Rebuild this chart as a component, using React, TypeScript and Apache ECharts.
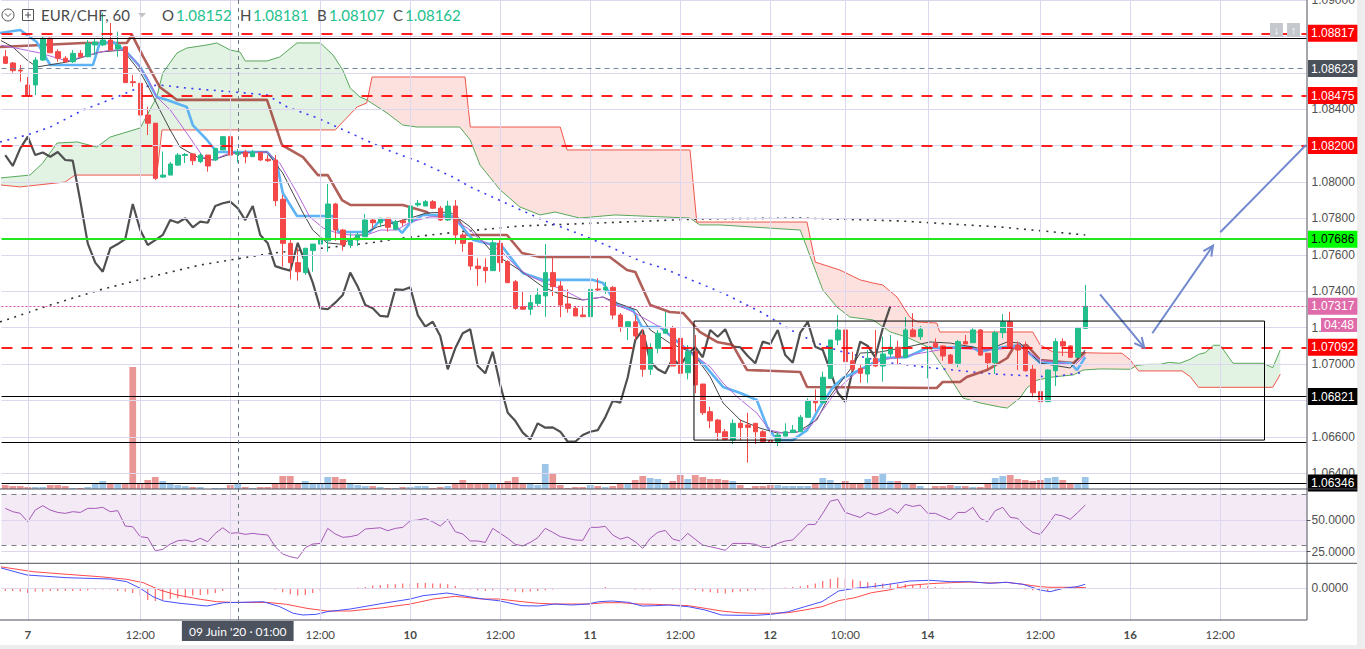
import React, { useEffect, useRef } from "react";
import * as echarts from "echarts";

// ---------------- DATA ----------------
// hourly bars, index 0 = first visible bar (Fri 5 Jun 18:00); 174 slots incl. future space
const slotCount = 174;
const categories: string[] = Array.from({ length: slotCount }, (_, i) => String(i));

const opens = [1.08688,1.08654,1.08615,1.08533,1.08533,1.0867,1.0879,1.08716,1.0868,1.08661,
1.08707,1.08688,1.08753,1.08753,1.0878,1.08731,1.08743,1.08551,1.08542,1.08368,
1.08323,1.08027,1.08038,1.08093,1.08146,1.08154,1.08112,1.08148,1.08121,1.08176,
1.08249,1.08152,1.08165,1.08139,1.08161,1.08125,1.08121,1.07905,1.07663,1.07557,
1.07502,1.07623,1.07659,1.07677,1.07879,1.07736,1.07654,1.07681,1.07699,1.07791,
1.07776,1.07801,1.0774,1.07787,1.07782,1.07874,1.07868,1.07892,1.07856,1.07791,
1.07868,1.07709,1.07666,1.07538,1.07531,1.07513,1.07663,1.07562,1.07452,1.07315,
1.07301,1.07333,1.07374,1.07502,1.07429,1.0733,1.07306,1.07269,1.0726,1.07412,
1.07407,1.07421,1.07269,1.07205,1.07232,1.07159,1.06971,1.07086,1.07169,1.07196,
1.07141,1.06952,1.07068,1.0689,1.06738,1.06692,1.06628,1.06582,1.06674,1.06665,
1.06674,1.06628,1.06579,1.06573,1.06604,1.06623,1.06628,1.06707,1.06798,1.06787,
1.06921,1.07132,1.07187,1.07018,1.06976,1.06945,1.07031,1.06989,1.07055,1.07092,
1.07037,1.07187,1.0715,1.07086,1.07114,1.07099,1.07049,1.07004,1.07123,1.07117,
1.07187,1.07059,1.07007,1.07172,1.07232,1.07104,1.07092,1.06971,1.06848,1.06793,
1.06963,1.07123,1.07099,1.07037,1.07196];
const highs = [1.08725,1.08659,1.08643,1.08577,1.08687,1.08798,1.08794,1.08729,1.08692,1.08725,
1.08725,1.0878,1.08786,1.08929,1.08874,1.08826,1.08747,1.08588,1.08544,1.08414,
1.08324,1.08167,1.0811,1.08159,1.08159,1.08159,1.08159,1.08148,1.08187,1.08253,
1.08276,1.08181,1.08176,1.08176,1.08167,1.08148,1.08148,1.07929,1.07681,1.07636,
1.07637,1.07659,1.07797,1.07989,1.07885,1.07742,1.07718,1.0772,1.07824,1.07801,
1.07802,1.07802,1.07791,1.07801,1.07901,1.07901,1.07901,1.07901,1.07868,1.07897,
1.07901,1.0772,1.0767,1.07581,1.07581,1.07681,1.07681,1.07571,1.07462,1.07397,
1.07379,1.07416,1.07659,1.07586,1.07456,1.0741,1.07319,1.07312,1.07434,1.07471,
1.07452,1.07429,1.0728,1.07236,1.07269,1.07192,1.07114,1.07187,1.07287,1.07209,
1.07143,1.07104,1.07159,1.0689,1.06765,1.06698,1.06643,1.06696,1.06696,1.06732,
1.06676,1.06637,1.0661,1.06623,1.06674,1.06665,1.0672,1.06812,1.06861,1.06958,
1.07132,1.07269,1.07196,1.07068,1.06995,1.07077,1.07187,1.0715,1.07159,1.07128,
1.07257,1.07279,1.07209,1.07095,1.07141,1.07104,1.07055,1.07132,1.07159,1.07196,
1.07191,1.0706,1.07183,1.07275,1.07287,1.07123,1.07123,1.06995,1.06875,1.06971,
1.07141,1.07141,1.07104,1.07205,1.07434];
const lows = [1.08648,1.08601,1.08551,1.08473,1.08478,1.08665,1.08709,1.08661,1.08654,1.08654,
1.08681,1.08687,1.08698,1.08747,1.08725,1.08688,1.08544,1.08524,1.08352,1.08258,
1.08011,1.08022,1.08038,1.08088,1.08104,1.08093,1.08104,1.08057,1.08115,1.08176,
1.08143,1.08107,1.08103,1.08137,1.08115,1.0811,1.07868,1.07535,1.07465,1.07458,
1.07489,1.07507,1.07637,1.07617,1.07677,1.07623,1.07636,1.07648,1.07698,1.07746,
1.07753,1.07727,1.07736,1.07758,1.0778,1.07864,1.07868,1.07852,1.07786,1.07786,
1.07659,1.07617,1.07516,1.07429,1.07447,1.07511,1.07507,1.07445,1.07297,1.07297,
1.07269,1.07319,1.0726,1.07374,1.07257,1.07282,1.07264,1.07258,1.07258,1.07397,
1.07385,1.07246,1.07177,1.07132,1.07132,1.0693,1.0694,1.07059,1.07169,1.06989,
1.06894,1.06916,1.06839,1.0672,1.06647,1.06579,1.06579,1.0656,1.06579,1.06458,
1.0656,1.06568,1.06555,1.06549,1.06601,1.06621,1.06626,1.06707,1.06738,1.06786,
1.06921,1.07104,1.06995,1.06962,1.06897,1.06897,1.06984,1.06903,1.07037,1.07,
1.07037,1.07148,1.07132,1.06921,1.07088,1.07018,1.07,1.06982,1.0711,1.07115,
1.07044,1.06971,1.06945,1.07141,1.07088,1.06967,1.06958,1.06817,1.0672,1.06793,
1.06879,1.07044,1.07033,1.07033,1.07194];
const closes = [1.08652,1.08612,1.0861,1.08478,1.0867,1.0879,1.0871,1.0868,1.08661,1.08707,
1.08688,1.08762,1.08769,1.0878,1.08725,1.08753,1.08546,1.08546,1.08368,1.08323,
1.0802,1.08038,1.08099,1.08148,1.08151,1.08117,1.08148,1.08088,1.08185,1.08249,
1.08148,1.08162,1.08139,1.08165,1.08121,1.08117,1.07897,1.07663,1.07557,1.07507,
1.07636,1.07659,1.07687,1.07879,1.07736,1.07654,1.07681,1.07709,1.07791,1.07776,
1.07801,1.07751,1.07782,1.07776,1.07868,1.07883,1.07892,1.07856,1.07791,1.07868,
1.07709,1.07663,1.07538,1.07524,1.07513,1.07666,1.07557,1.07447,1.07306,1.07301,
1.07337,1.07379,1.07502,1.07425,1.07324,1.07306,1.07264,1.0726,1.0741,1.07407,
1.07421,1.07269,1.07205,1.07232,1.07154,1.06971,1.07086,1.07169,1.07191,1.06989,
1.06949,1.07068,1.06885,1.06732,1.06688,1.06623,1.06586,1.06674,1.0665,1.06652,
1.06628,1.06573,1.06573,1.0661,1.06628,1.06637,1.06707,1.06798,1.06787,1.06927,
1.07132,1.07187,1.07013,1.06971,1.06949,1.07031,1.06989,1.07055,1.07092,1.07037,
1.07187,1.0715,1.07191,1.07095,1.07092,1.07044,1.07004,1.07123,1.0711,1.07187,
1.07049,1.07007,1.07172,1.07232,1.07095,1.07077,1.06963,1.06842,1.06793,1.06967,
1.07123,1.07099,1.07037,1.07196,1.07317];
const volumes = [4,3,3,2,2,2,4,4,3,1,
1,2,5,8,6,6,6,122,6,9,
12,8,5,4,3,2,2,0,1,1,
4,5,2,1,2,2,6,13,13,6,
8,6,6,12,12,10,5,4,3,3,
2,1,1,2,2,3,3,1,2,3,
6,9,6,6,6,6,6,8,12,6,
5,4,25,15,4,1,2,2,4,3,
2,3,5,5,9,13,11,10,6,8,
14,10,14,12,10,10,9,8,4,1,
3,3,4,4,3,3,3,3,6,11,
9,6,8,6,6,10,13,15,8,8,
6,6,3,0,3,3,4,3,3,2,
2,5,11,13,14,10,9,8,9,11,
12,9,6,6,12];
const rsiValues = [59.0,56.4,55.1,48.5,57.7,61.1,57.7,55.8,55.1,56.4,
55.8,59.0,59.0,59.8,56.4,57.2,45.1,44.6,36.8,36.0,
25.8,26.8,31.0,33.6,34.2,32.8,35.5,32.8,39.4,43.8,
39.4,39.9,38.6,39.4,38.6,38.1,28.9,23.2,21.1,19.8,
28.1,31.0,31.5,43.3,38.9,36.3,36.8,38.1,42.8,43.3,
43.8,41.5,43.3,44.1,49.3,49.8,51.1,48.5,45.1,50.4,
40.7,38.9,33.4,33.4,32.3,43.3,39.4,35.5,30.8,29.5,
32.3,36.0,43.3,40.2,36.8,35.5,34.2,33.9,44.1,44.1,
44.9,38.1,34.9,36.5,32.8,27.6,35.5,40.2,41.7,34.9,
33.4,39.4,34.7,30.2,28.9,27.6,26.1,31.5,31.5,31.5,
30.8,28.4,28.4,31.5,33.4,34.2,40.2,46.4,46.4,55.1,
64.7,66.0,55.8,53.8,51.9,55.8,53.8,55.8,59.0,55.1,
62.1,60.5,61.6,55.1,55.1,52.5,49.8,55.8,55.8,59.8,
51.1,48.5,57.2,59.8,52.0,51.1,44.6,40.2,38.6,45.9,
54.3,53.0,50.4,55.8,61.6];
// MACD values in units of 1e-5
const macdHist = [-2.7,-2.7,-3.3,-4.7,-3.3,-3.3,-2.7,-2.7,-2.7,-2.7,
-2.7,-2,-1.3,-1.3,-1.3,-2.7,-3.3,-4.7,-7.3,-11.7,
-12.7,-11.7,-10.7,-10,-9.3,-7.3,-6.7,-6,-4.7,-2.7,
-0.7,0,0,0,0,0,-1.3,-4,-6,-7.3,
-6.7,-4.7,-2.7,-0.7,0,0,0,0.7,1.3,2.7,
3.3,4,4,4.7,4.7,5.3,5.3,4.7,4.7,4,
2.3,-1.3,-1.3,-2,-2.7,-2,-2,-2,-3.3,-4,
-3.3,-2.7,-2,-1.3,-0.7,-0.7,-0.7,0,0.7,0,
1.3,0,0,0,-1.3,-1.3,-1.3,-0.7,-0.7,-1.3,
-2,-1.3,-2,-3.3,-4,-4.7,-5.3,-4,-3.3,-2.7,
-2,-1.3,-1.3,0,0.7,1.3,2,3.3,4.7,7.3,
9.3,10.7,10,8.7,7.3,6,5.3,4.7,4.7,4,
4,3.3,3.3,2,1.3,0.7,0.7,0,0,0,
0,0.3,0,0,0,-0.7,-1.3,-2,-3.3,-2.7,
-1.3,-0.7,0.7,1.3,1.3];
const macdLine: [number, number][] = [[-0.7,20.6],[2.9,13.3],[8.2,10.6],[14,9.3],[16.2,6.6],[18,0],[19.7,-8.4],[21.1,-12.7],[23.3,-15],[26.9,-17.7],[29.1,-14.4],[31.3,-14.1],[34.4,-13.4],[36.6,-18.4],[38.4,-25],[39.7,-26.7],[41.5,-26],[42.9,-23.4],[46,-20.7],[50.4,-15],[54,-10.7],[55.7,-7.4],[58.9,-4.7],[60,-6],[62.6,-9.4],[64,-11],[65.8,-12.4],[68.9,-17.4],[71.1,-17.7],[73.3,-15.7],[75.5,-16.7],[77.7,-15.7],[79.1,-13.4],[80.9,-12.7],[83.1,-14],[84.9,-17.7],[86.6,-17.4],[88.4,-16.7],[91.1,-18.4],[93.3,-21.7],[95.5,-26.7],[97.7,-27],[100,-27],[102.2,-26],[104.4,-23.4],[106.6,-18.4],[108.9,-13.4],[111.1,-2.7],[113.3,0],[115.5,1.6],[117.8,4],[120.6,7.3],[123.3,8],[126,6.6],[128.6,6.6],[131.3,5],[133.5,6],[135.7,4],[138,-1.7],[139.3,-3.4],[141.1,0],[142.9,1.6],[144,4]];
const signalLine: [number, number][] = [[-0.7,21.6],[3.7,16.6],[8.2,14],[12.6,11.6],[16.2,9],[18.4,5.6],[20.6,-1.7],[22.9,-6.7],[26,-11],[28.2,-13.4],[30.4,-14.1],[34.9,-14.1],[37.5,-16],[40.2,-20],[42.9,-22.7],[46,-22.7],[50.4,-19.4],[54,-15.7],[57.1,-10.7],[60,-8],[63.5,-10.7],[65.8,-10.7],[68.9,-13.4],[71.1,-15],[73.3,-15.7],[77.7,-15.7],[80,-14.4],[82.2,-14.4],[84.4,-15.7],[86.6,-16],[88.9,-16.7],[91.1,-17.4],[93.3,-20],[95.5,-22.7],[97.7,-24.4],[100,-25],[102.2,-25],[104.4,-24.4],[106.6,-21.7],[108.9,-18.4],[111.1,-12.4],[113.3,-9.4],[115.5,-4.4],[117.8,-1.7],[120.6,3],[123.3,4.6],[126,5.6],[128.6,6.3],[131.3,5.3],[133.5,6],[135.7,4],[138,1.6],[139.3,1],[141.1,1],[142.9,1],[144,0.6]];

// indicator lines: [bar index, price]
const tenkan: [number, number][] = [[-0.7,1.08819],[2.0,1.08835],[4.2,1.08769],[6.0,1.08643],[11.7,1.08643],[12.6,1.08764],[14.4,1.08769],[16.2,1.08714],[18.0,1.08632],[20.2,1.08467],[21.6,1.08451],[24.2,1.08412],[25.0,1.08313],[26.9,1.08231],[28.2,1.08165],[34.9,1.08165],[36.2,1.08104],[37.0,1.0794],[38.9,1.07813],[43.7,1.07813],[44.4,1.07725],[48.6,1.07725],[50.0,1.07791],[51.3,1.07791],[52.9,1.0772],[54.0,1.07775],[55.7,1.07819],[59.3,1.07819],[60.6,1.07769],[62.4,1.07681],[64.6,1.07659],[66.0,1.07659],[69.0,1.075],[71.7,1.07462],[78.4,1.07462],[79.7,1.07445],[81.6,1.07324],[83.7,1.07297],[84.9,1.07203],[87.3,1.07203],[91.3,1.07066],[93.0,1.07005],[95.7,1.06874],[98.0,1.06841],[100.2,1.06802],[101.6,1.06654],[102.9,1.06582],[105.0,1.06582],[106.9,1.06637],[108.6,1.06764],[110.4,1.06874],[111.7,1.06923],[112.6,1.0694],[117.0,1.07033],[120.2,1.07038],[122.9,1.07088],[129.0,1.07093],[129.9,1.07066],[132.2,1.07088],[135.3,1.07104],[138.0,1.07005],[142.0,1.07005],[142.9,1.06967],[144.0,1.07038]];
const kijun: [number, number][] = [[-0.7,1.08742],[10.4,1.08764],[16.2,1.08764],[16.9,1.08808],[18.4,1.08687],[20.6,1.08522],[22.9,1.08451],[34.9,1.08451],[36.9,1.08203],[39.7,1.08137],[41.7,1.08038],[43.0,1.08038],[44.9,1.07901],[46.0,1.07874],[53.0,1.07874],[56.2,1.07835],[56.6,1.07819],[60.2,1.07808],[61.6,1.07709],[66.9,1.07709],[68.9,1.0761],[71.3,1.07588],[80.6,1.07588],[82.9,1.07516],[84.0,1.07506],[86.0,1.07324],[88.6,1.07286],[90.4,1.0728],[92.6,1.07176],[94.9,1.07121],[97.0,1.07104],[98.9,1.06967],[106.0,1.06956],[106.9,1.06874],[124.2,1.06868],[125.0,1.06901],[127.3,1.06901],[128.2,1.06929],[130.9,1.06967],[133.6,1.07033],[134.4,1.07088],[136.2,1.07104],[138.0,1.07022],[142.4,1.07005],[144.0,1.07066]];
const emaPurple: [number, number][] = [[-0.7,1.08753],[2.0,1.08731],[4.6,1.08709],[8.2,1.08665],[12.2,1.08709],[14.0,1.08725],[15.7,1.08725],[17.0,1.08681],[18.9,1.08577],[20.2,1.08467],[22.0,1.08396],[24.2,1.08269],[26.4,1.08137],[27.7,1.08121],[29.6,1.08154],[34.9,1.08165],[36.6,1.08104],[38.9,1.0794],[40.6,1.07808],[42.4,1.07747],[44.2,1.0772],[46.0,1.07709],[48.2,1.07709],[50.0,1.07736],[52.2,1.07736],[54.0,1.0778],[56.6,1.07808],[59.3,1.07808],[62.0,1.07736],[63.3,1.07681],[66.0,1.07626],[68.2,1.07533],[69.6,1.07489],[71.7,1.07451],[74.4,1.07407],[77.0,1.07352],[79.7,1.07368],[81.0,1.07335],[83.7,1.07286],[85.6,1.07242],[87.3,1.07203],[91.3,1.07066],[94.0,1.06984],[95.7,1.06896],[97.6,1.06819],[100.2,1.06731],[101.9,1.06637],[103.7,1.06621],[105.6,1.06626],[107.3,1.06654],[109.0,1.06747],[110.9,1.06857],[112.6,1.06923],[114.0,1.06967],[117.0,1.07022],[120.6,1.07049],[126.0,1.07088],[131.3,1.07077],[135.3,1.07093],[138.0,1.07022],[140.6,1.07005],[142.6,1.06995],[144.0,1.07049]];
const smaThin: [number, number][] = [[-0.7,1.0878],[1.0,1.08742],[2.9,1.0867],[4.2,1.08632],[8.2,1.08659],[12.6,1.08714],[15.7,1.08725],[18.0,1.08604],[19.3,1.08506],[20.6,1.08396],[22.0,1.08286],[23.3,1.08192],[25.6,1.08137],[27.7,1.08121],[30.4,1.08159],[34.9,1.08165],[37.0,1.08049],[39.7,1.0783],[41.0,1.07736],[42.9,1.07665],[44.6,1.07659],[46.9,1.07698],[49.6,1.07753],[51.7,1.07775],[54.0,1.07802],[56.2,1.0783],[59.3,1.07835],[62.0,1.07753],[65.0,1.0761],[68.6,1.07516],[71.7,1.07423],[74.9,1.07368],[77.0,1.07352],[79.7,1.07368],[81.6,1.07335],[84.2,1.07297],[86.0,1.07187],[88.6,1.07115],[91.7,1.0706],[94.0,1.06929],[95.7,1.06786],[98.0,1.06692],[100.6,1.06648],[102.9,1.06621],[105.6,1.06626],[108.2,1.06692],[109.6,1.06802],[110.9,1.06874],[112.6,1.06967],[114.0,1.0706],[116.6,1.07066],[120.2,1.07093],[123.3,1.07121],[126.0,1.07115],[129.0,1.07093],[130.9,1.07077],[133.6,1.07121],[135.3,1.07115],[138.0,1.07005],[142.0,1.06978],[144.0,1.07077]];
const maBlueDotted: [number, number][] = [[-0.7,1.0822],[2.9,1.08258],[6.0,1.08302],[10.4,1.08396],[14.9,1.08467],[18.0,1.08522],[20.6,1.08533],[24.2,1.08516],[30.4,1.08495],[34.9,1.08478],[37.6,1.08412],[41.6,1.08352],[46.0,1.08269],[50.9,1.08176],[55.3,1.0811],[59.7,1.08027],[62.0,1.07973],[71.7,1.07791],[76.9,1.07709],[81.0,1.07637],[85.0,1.0756],[87.3,1.07533],[95.7,1.0739],[101.0,1.0728],[105.0,1.07181],[108.2,1.07115],[111.3,1.07071],[117.0,1.07011],[123.7,1.06978],[131.7,1.06945],[139.7,1.06929],[144.0,1.06956]];
const maBlackDotted: [number, number][] = [[-0.7,1.07231],[6.0,1.07324],[12.6,1.07407],[19.3,1.07478],[26.0,1.07544],[35.7,1.0761],[42.4,1.07637],[48.6,1.07665],[53.0,1.07692],[60.2,1.07725],[68.6,1.07758],[79.3,1.07775],[92.6,1.07797],[106.0,1.07802],[119.3,1.07786],[132.6,1.07753],[144.0,1.07709]];
const senkouA: [number, number][] = [[-0.7,1.08022],[3.3,1.08038],[5.0,1.08104],[6.9,1.08214],[9.6,1.0822],[12.2,1.08192],[14.0,1.08247],[18.0,1.08297],[20.2,1.08467],[21.0,1.08599],[22.9,1.08709],[24.2,1.08736],[26.9,1.08753],[28.2,1.08764],[30.0,1.08725],[31.3,1.08714],[32.0,1.08665],[34.9,1.08665],[36.6,1.08687],[38.9,1.08764],[42.0,1.08764],[43.7,1.08698],[45.0,1.08615],[46.0,1.08516],[47.3,1.08467],[48.2,1.08451],[50.9,1.08379],[53.0,1.08313],[54.9,1.08302],[60.6,1.08302],[62.0,1.08231],[63.3,1.08093],[66.0,1.07956],[68.6,1.07863],[71.3,1.07819],[73.3,1.07835],[76.6,1.07802],[81.3,1.07819],[91.3,1.07802],[92.6,1.07764],[95.3,1.07764],[106.0,1.07736],[109.0,1.07407],[110.9,1.07313],[112.6,1.07258],[115.7,1.07242],[118.0,1.07176],[120.2,1.07148],[123.3,1.07088],[125.0,1.06984],[126.4,1.06896],[127.7,1.06813],[130.0,1.06786],[132.6,1.06764],[133.6,1.06758],[135.3,1.06813],[136.2,1.06868],[137.6,1.06912],[139.7,1.06929],[142.4,1.0694],[143.7,1.06967],[146.0,1.06973],[150.0,1.06971],[150.9,1.06993],[152.2,1.06998],[154.0,1.06998],[155.1,1.07009],[156.6,1.07004],[158.0,1.07026],[159.1,1.07053],[160.0,1.07062],[161.1,1.07103],[162.0,1.07103],[163.7,1.07004],[167.7,1.07004],[169.0,1.0698],[170.0,1.07077]];
const senkouB: [number, number][] = [[-0.7,1.07984],[2.0,1.07973],[8.0,1.08],[9.3,1.08038],[20.2,1.08038],[20.9,1.08286],[44.0,1.08286],[45.0,1.0833],[46.9,1.08412],[48.2,1.08434],[48.9,1.08577],[61.3,1.08577],[62.0,1.08302],[74.0,1.08302],[74.9,1.08176],[91.3,1.08176],[92.2,1.0778],[106.9,1.0778],[108.0,1.0756],[111.3,1.07516],[114.0,1.07462],[115.7,1.07445],[117.0,1.07434],[118.9,1.07368],[120.6,1.07258],[121.6,1.07231],[124.2,1.07225],[124.6,1.07176],[137.0,1.07176],[138.0,1.07104],[139.7,1.07066],[146.0,1.0706],[148.9,1.07059],[150.0,1.07022],[151.1,1.06962],[156.9,1.06962],[158.0,1.0693],[159.1,1.06872],[169.0,1.06872],[170.0,1.06943]];
const cloudTwists = [48.3, 150.6];
const cloudLobeBullish = [true, false, true];
const chikouShift = 26;

// drawings
const redLevels = [1.08817, 1.08475, 1.082, 1.07092];
const blackLevels = [1.08791, 1.0657];
const blackTagged = [1.06821, 1.06346];
const grayLevel = 1.08623;
const greenLevel = 1.07686;
const lastPrice = 1.07317;
const countdown = "04:48";
const boxCorners = [91.83, 1.07236, 167.9, 1.06582];
const arrows = [
  [145.97, 1.07383, 151.87, 1.0709, 1],
  [152.94, 1.07169, 161.03, 1.0765, 1],
  [162.0, 1.07724, 173.43, 1.08203, 0],
];

// axes
const gridPrices = [1.09,1.088,1.086,1.084,1.082,1.08,1.078,1.076,1.074,1.072,1.07,1.068,1.066,1.064];
const priceTicks = [1.09,1.084,1.08,1.078,1.076,1.074,1.072,1.07,1.066,1.064];
const rsiTicks = [50, 25];
const macdTicks = [0];
const dayLines = [3,18,30,42,54,66,78,90,102,112,123,138,150,162];
const xLabelIdx = [3,18,42,54,66,78,90,102,112,123,138,150,162];
const xLabelText = ["7","12:00","12:00","10","12:00","11","12:00","12","10:00","14","12:00","16","12:00"];
const crosshairIdx = 31;
const crosshairText = "09 Juin '20 \u00B7 01:00";
const symbolText = "EUR/CHF, 60";

// ---------------- STYLE ----------------
const UP = "#22BF8C";
const DOWN = "#F44848";
const GRID = "#DCD7EE";
const PF = "'Liberation Sans', Arial, sans-serif";
const HF = "Lato, 'Noto Sans', sans-serif";
const PINK = "#E06BAA";
const ARROW = "#7189CE";
const AXISC = "#50535E";

function interp(pts: [number, number][], x: number) {
  if (x <= pts[0][0]) return pts[0][1];
  for (let i = 1; i < pts.length; i++) {
    if (x <= pts[i][0]) {
      const [x0, y0] = pts[i - 1];
      const [x1, y1] = pts[i];
      return y0 + ((y1 - y0) * (x - x0)) / (x1 - x0);
    }
  }
  return pts[pts.length - 1][1];
}

function tag(v: number, bg: string, fg: string) {
  return {
    show: true, position: "end", distance: 1.5, formatter: v.toFixed(5),
    backgroundColor: bg, color: fg, padding: [2, 3, 2, 3], fontSize: 12, lineHeight: 13, fontFamily: PF,
  };
}

function lineS(data: any, color: string, width: number, z: number, type: any = "solid", xi = 1) {
  return { type: "line", xAxisIndex: xi, yAxisIndex: 0, data, symbol: "none", silent: true, z,
    lineStyle: { color, width, type }, animation: false };
}

function tickAxis(gridIndex: number, min: number, max: number, ticks: number[]) {
  return {
    type: "value", gridIndex, min, max, position: "right", show: true,
    axisLine: { show: false }, splitLine: { show: false }, axisLabel: { show: false },
    axisTick: { show: true, inside: false, length: 4, customValues: ticks, lineStyle: { color: AXISC, width: 1 } },
  };
}

function buildOption(): any {
  const L = 1.5, W = 1305;
  const idxAxis = { type: "value", min: -0.5, max: 173.5, show: false };
  const catAxis = { type: "category", data: categories, boundaryGap: true, show: false };
  const candleData = opens.map((o, i) => [o, closes[i], lows[i], highs[i]]);
  const volData = volumes.map((v, i) => ({ value: v, itemStyle: { color: closes[i] >= opens[i] ? "#9DC5E8" : "#E89696" } }));

  const hdr = (text: string, x: number, color: string, size = 15) => ({
    type: "text", x, y: 15, z: 100,
    style: { text, fill: color, fontSize: size, fontFamily: HF, verticalAlign: "middle", textVerticalAlign: "middle" },
  });

  const series: any[] = [
    // vertical grid lines + x labels (overlay grid)
    { type: "line", xAxisIndex: 6, yAxisIndex: 4, data: [], z: 0, silent: true,
      markLine: { silent: true, symbol: ["none", "none"], animation: false, precision: 3,
        lineStyle: { color: GRID, width: 1, type: "solid" },
        data: dayLines.map((k) => {
          const li = xLabelIdx.indexOf(k);
          return { xAxis: k, label: li < 0 ? { show: false } : {
            show: true, position: "start", distance: 8, formatter: xLabelText[li], color: "#4A4A4A",
            fontSize: 11.5, fontFamily: HF, fontWeight: xLabelText[li].includes(":") ? "normal" : "bold" } };
        }) } },
    // horizontal price grid + labels
    { type: "line", xAxisIndex: 1, yAxisIndex: 0, data: [], z: 0, silent: true,
      markLine: { silent: true, symbol: ["none", "none"], animation: false, precision: 6,
        lineStyle: { color: GRID, width: 1, type: "solid" },
        data: gridPrices.map((p) => ({ yAxis: p, label: priceTicks.some((t) => Math.abs(t - p) < 1e-9)
          ? { show: true, position: "end", distance: 5, formatter: p.toFixed(5), color: "#4F4F4F", fontSize: 12, fontFamily: PF }
          : { show: false } })) } },
    // cloud fill
    { type: "custom", xAxisIndex: 1, yAxisIndex: 0, z: 1, silent: true, clip: true, data: [[0, 1.08]],
      renderItem: (_p: any, api: any) => {
        const xs = [senkouA[0][0], ...cloudTwists, senkouA[senkouA.length - 1][0]];
        const kids: any[] = [];
        for (let k = 0; k < xs.length - 1; k++) {
          const a0 = xs[k], a1 = xs[k + 1];
          const top = [[a0, interp(senkouA, a0)], ...senkouA.filter((p) => p[0] > a0 && p[0] < a1), [a1, interp(senkouA, a1)]];
          const bot = [[a0, interp(senkouB, a0)], ...senkouB.filter((p) => p[0] > a0 && p[0] < a1), [a1, interp(senkouB, a1)]].reverse();
          kids.push({ type: "polygon", shape: { points: top.concat(bot).map((p) => api.coord(p)) },
            style: { fill: cloudLobeBullish[k] ? "rgba(76,175,80,0.16)" : "rgba(244,67,54,0.16)" } });
        }
        return { type: "group", children: kids };
      } },
    lineS(senkouA, "#58A85B", 1, 2),
    lineS(senkouB, "#F0564C", 1, 2),
    // volume
    { type: "bar", xAxisIndex: 2, yAxisIndex: 1, data: volData, barCategoryGap: "10%", z: 1.5, silent: true, animation: false },
    // moving averages & ichimoku lines
    lineS(maBlackDotted, "#333333", 1.6, 3, [2, 5.5]),
    lineS(maBlueDotted, "#3B3BF2", 1.6, 3, [2, 5.5]),
    { type: "line", xAxisIndex: 0, yAxisIndex: 0, data: closes.slice(chikouShift), symbol: "none", silent: true, z: 3,
      lineStyle: { color: "#505050", width: 2.2 }, animation: false },
    lineS(kijun, "rgba(160,60,52,0.82)", 2.6, 3),
    lineS(tenkan, "#5DB3F3", 2.6, 3),
    lineS(smaThin, "#474747", 1, 3),
    lineS(emaPurple, "#B765DD", 1, 3),
    // candles
    { type: "candlestick", xAxisIndex: 0, yAxisIndex: 0, data: candleData, barWidth: 5, z: 4, silent: true,
      itemStyle: { color: UP, color0: DOWN, borderColor: UP, borderColor0: DOWN, borderWidth: 1 } },
    // rectangle drawing
    lineS([[boxCorners[0], boxCorners[1]], [boxCorners[2], boxCorners[1]], [boxCorners[2], boxCorners[3]],
      [boxCorners[0], boxCorners[3]], [boxCorners[0], boxCorners[1]]], "#000000", 1, 6),
    // arrows
    { type: "custom", xAxisIndex: 1, yAxisIndex: 0, z: 6, silent: true, data: arrows, encode: { x: [0, 2], y: [1, 3] },
      renderItem: (_p: any, api: any) => {
        const p1 = api.coord([api.value(0), api.value(1)]);
        const p2 = api.coord([api.value(2), api.value(3)]);
        const st = { stroke: ARROW, lineWidth: 2, fill: "none" };
        const kids: any[] = [{ type: "line", shape: { x1: p1[0], y1: p1[1], x2: p2[0], y2: p2[1] }, style: st }];
        if (api.value(4)) {
          const a = Math.atan2(p2[1] - p1[1], p2[0] - p1[0]);
          const len = 11, sp = 0.45;
          kids.push({ type: "polyline", shape: { points: [
            [p2[0] - len * Math.cos(a - sp), p2[1] - len * Math.sin(a - sp)], [p2[0], p2[1]],
            [p2[0] - len * Math.cos(a + sp), p2[1] - len * Math.sin(a + sp)]] }, style: st });
        }
        return { type: "group", children: kids };
      } },
    // horizontal level drawings with price tags
    { type: "line", xAxisIndex: 1, yAxisIndex: 0, data: [], z: 6, silent: true,
      markLine: { silent: true, symbol: ["none", "none"], animation: false, precision: 6,
        data: [
          ...blackLevels.map((v) => ({ yAxis: v, lineStyle: { color: "#000", width: 1, type: "solid" }, label: { show: false } })),
          ...blackTagged.map((v) => ({ yAxis: v, lineStyle: { color: "#000", width: 1, type: "solid" }, label: tag(v, "#000000", "#ffffff") })),
          { yAxis: grayLevel, lineStyle: { color: "#7487A0", width: 1, type: [5, 4] }, label: tag(grayLevel, "#4A515B", "#ffffff") },
          { yAxis: greenLevel, lineStyle: { color: "#22E622", width: 2, type: "solid" }, label: tag(greenLevel, "#00FF00", "#000000") },
          { yAxis: lastPrice, lineStyle: { color: "#E0479E", width: 1, type: [2, 2] }, label: tag(lastPrice, PINK, "#ffffff") },
          ...redLevels.map((v) => ({ yAxis: v, lineStyle: { color: "rgba(255,0,0,0.88)", width: 2, type: [11, 9] }, label: tag(v, "#FF0000", "#ffffff") })),
        ] } },
    // crosshair
    { type: "line", xAxisIndex: 6, yAxisIndex: 4, data: [], z: 7, silent: true,
      markLine: { silent: true, symbol: ["none", "none"], animation: false, label: { show: false },
        lineStyle: { color: "#6F7C8C", width: 1, type: [4, 4] }, data: [{ xAxis: crosshairIdx }] } },
    // RSI
    { type: "line", xAxisIndex: 3, yAxisIndex: 2, data: rsiValues, symbol: "none", silent: true, z: 3,
      lineStyle: { color: "#A558B6", width: 1 }, animation: false,
      markArea: { silent: true, itemStyle: { color: "rgba(150,60,160,0.11)" }, data: [[{ yAxis: 30 }, { yAxis: 70 }]] },
      markLine: { silent: true, symbol: ["none", "none"], animation: false,
        data: [
          { yAxis: 70, lineStyle: { color: "#7E7E88", width: 1, type: [5, 5] }, label: { show: false } },
          { yAxis: 30, lineStyle: { color: "#7E7E88", width: 1, type: [5, 5] }, label: { show: false } },
          ...rsiTicks.map((t) => ({ yAxis: t, lineStyle: { color: GRID, width: 1, type: "solid" },
            label: { show: true, position: "end", distance: 5, formatter: t.toFixed(4), color: "#4F4F4F", fontSize: 12, fontFamily: PF } })),
        ] } },
    // MACD
    { type: "bar", xAxisIndex: 4, yAxisIndex: 3, data: macdHist, barWidth: 1, silent: true, z: 3,
      itemStyle: { color: "#FF4D4D" }, animation: false,
      markLine: { silent: true, symbol: ["none", "none"], animation: false,
        data: macdTicks.map((t) => ({ yAxis: t, lineStyle: { color: GRID, width: 1, type: "solid" },
          label: { show: true, position: "end", distance: 5, formatter: t.toFixed(4), color: "#4F4F4F", fontSize: 12, fontFamily: PF } })) } },
    { type: "line", xAxisIndex: 5, yAxisIndex: 3, data: signalLine, symbol: "none", silent: true, z: 3,
      lineStyle: { color: "#FF4A4A", width: 1 }, animation: false },
    { type: "line", xAxisIndex: 5, yAxisIndex: 3, data: macdLine, symbol: "none", silent: true, z: 3,
      lineStyle: { color: "#4650FA", width: 1 }, animation: false },
  ];

  const dark = "#4B4F58";
  const graphic: any[] = [
    { type: "rect", shape: { x: 1357, y: 0, width: 8, height: 649 }, style: { fill: "#EDEDED" }, z: 1 },
    { type: "rect", shape: { x: 0, y: 645, width: 1365, height: 4 }, style: { fill: "#EDEDED" }, z: 1 },
    { type: "line", shape: { x1: 1307, y1: 0, x2: 1307, y2: 620 }, style: { stroke: dark, lineWidth: 1 }, z: 10 },
    { type: "line", shape: { x1: 0, y1: 489, x2: 1357, y2: 489 }, style: { stroke: dark, lineWidth: 1 }, z: 10 },
    { type: "line", shape: { x1: 0, y1: 563.3, x2: 1357, y2: 563.3 }, style: { stroke: dark, lineWidth: 1 }, z: 10 },
    { type: "line", shape: { x1: 0, y1: 620, x2: 1307, y2: 620 }, style: { stroke: dark, lineWidth: 1 }, z: 10 },
    // header
    { type: "circle", shape: { cx: 8, cy: 15, r: 6 }, style: { fill: "none", stroke: "#555", lineWidth: 1 }, z: 100 },
    { type: "polyline", shape: { points: [[5, 13.5], [8, 16.5], [11, 13.5]] }, style: { fill: "none", stroke: "#555", lineWidth: 1 }, z: 100 },
    { type: "rect", shape: { x: 22.5, y: 9.5, width: 11, height: 11 }, style: { fill: "none", stroke: "#555", lineWidth: 1 }, z: 100 },
    { type: "line", shape: { x1: 25, y1: 15, x2: 31, y2: 15 }, style: { stroke: "#555", lineWidth: 1 }, z: 100 },
    { type: "line", shape: { x1: 28, y1: 12, x2: 28, y2: 18 }, style: { stroke: "#555", lineWidth: 1 }, z: 100 },
    hdr(symbolText, 41, "#4A4A4A"),
    { type: "polygon", shape: { points: [[138, 13], [146, 13], [142, 17.5]] }, style: { fill: "#C4C4C4" }, z: 100 },
    hdr("O", 162, "#4A4A4A"), hdr(opens[crosshairIdx].toFixed(5), 176, UP),
    hdr("H", 240, "#4A4A4A"), hdr(highs[crosshairIdx].toFixed(5), 253, UP),
    hdr("B", 317, "#4A4A4A"), hdr(lows[crosshairIdx].toFixed(5), 329, UP),
    hdr("C", 393, "#4A4A4A"), hdr(closes[crosshairIdx].toFixed(5), 405, UP),
    // top-right buttons
    { type: "rect", shape: { x: 1270, y: 23, width: 13, height: 14 }, style: { fill: "#C5C9CE" }, z: 100 },
    { type: "rect", shape: { x: 1287, y: 23, width: 13, height: 14 }, style: { fill: "#C5C9CE" }, z: 100 },
    { type: "text", x: 1276.5, y: 30, z: 101, style: { text: "\u2193", fill: "#fff", fontSize: 11, fontWeight: "bold", align: "center", verticalAlign: "middle", textAlign: "center", textVerticalAlign: "middle" } },
    { type: "text", x: 1293.5, y: 30, z: 101, style: { text: "\u2191", fill: "#fff", fontSize: 11, fontWeight: "bold", align: "center", verticalAlign: "middle", textAlign: "center", textVerticalAlign: "middle" } },
    // countdown tag
    { type: "text", x: 1321, y: 318, z: 100, style: { text: countdown, fill: "#fff", fontSize: 12, fontFamily: PF, lineHeight: 14, backgroundColor: PINK, padding: [0, 3, 0, 3] } },
    // crosshair time label
    { type: "text", x: 237.75, y: 631, z: 100, style: { text: crosshairText, fill: "#fff", fontSize: 12, fontFamily: HF,
      align: "center", verticalAlign: "middle", textAlign: "center", textVerticalAlign: "middle", backgroundColor: "#4C525E", padding: [4, 7, 4, 7] } },
  ];

  return {
    animation: false,
    backgroundColor: "#ffffff",
    grid: [
      { left: L, width: W, top: 0, height: 489 },
      { left: L, width: W, top: 367, height: 122 },
      { left: L, width: W, top: 489, height: 74.3 },
      { left: L, width: W, top: 563.3, height: 56.7 },
      { left: L, width: W, top: 0, height: 620 },
    ],
    xAxis: [
      { ...catAxis, gridIndex: 0 },
      { ...idxAxis, gridIndex: 0 },
      { ...catAxis, gridIndex: 1 },
      { ...catAxis, gridIndex: 2 },
      { ...catAxis, gridIndex: 3 },
      { ...idxAxis, gridIndex: 3 },
      { ...idxAxis, gridIndex: 4 },
    ],
    yAxis: [
      tickAxis(0, 1.063132, 1.09, priceTicks),
      { type: "value", gridIndex: 1, min: 0, max: 122, show: false },
      tickAxis(2, 15.9, 74.2, rsiTicks),
      tickAxis(3, -31.7, 25, macdTicks),
      { type: "value", gridIndex: 4, min: 0, max: 1, show: false },
    ],
    series,
    graphic,
  };
}

export default function App() {
  const ref = useRef<HTMLDivElement>(null);
  useEffect(() => {
    if (!ref.current) return;
    const chart = echarts.init(ref.current, null, { renderer: "svg" });
    chart.setOption(buildOption());
    return () => chart.dispose();
  }, []);
  return (
    <div
      ref={ref}
      style={{ position: "fixed", left: 0, top: 0, width: 1365, height: 649, background: "#fff" }}
    />
  );
}
